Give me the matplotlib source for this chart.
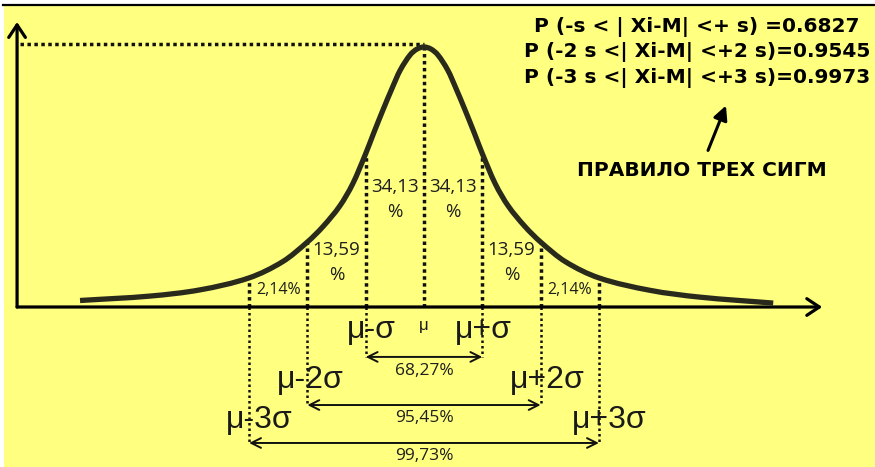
import numpy as np
import matplotlib
matplotlib.use("Agg")
import matplotlib.pyplot as plt
from matplotlib.patches import Rectangle, FancyArrowPatch, PathPatch
from matplotlib.lines import Line2D
from matplotlib.path import Path

# Bell curve, x in units of sigma around the mean, height relative to the peak
curve_x = [-5.90, -4.70, -3.84, -3.00, -2.42, -2.00, -1.73, -1.44, -1.22, -1.00,
           -0.87, -0.70, -0.55, -0.41, -0.24, -0.12, 0.00, 0.12, 0.24, 0.41,
           0.55, 0.70, 0.87, 1.00, 1.22, 1.44, 1.73, 2.00, 2.42, 3.00,
           3.88, 4.73, 5.99]
curve_y = [0.025, 0.042, 0.066, 0.112, 0.175, 0.250, 0.310, 0.390, 0.475, 0.590,
           0.665, 0.760, 0.840, 0.910, 0.969, 0.992, 1.000, 0.992, 0.969, 0.910,
           0.840, 0.760, 0.665, 0.590, 0.475, 0.390, 0.310, 0.250, 0.175, 0.112,
           0.064, 0.038, 0.015]

sigma_levels = [1, 2, 3]
band_pct = ["34,13", "13,59", "2,14"]          # share of each sigma band
coverage_pct = ["68,27%", "95,45%", "99,73%"]  # within ±kσ
probabilities = [0.6827, 0.9545, 0.9973]
prob_templates = ["P (-s < | Xi-M| <+ s) ={:.4f}",
                  "P (-2 s <| Xi-M| <+2 s)={:.4f}",
                  "P (-3 s <| Xi-M| <+3 s)={:.4f}"]
minus_labels = ["μ-σ", "μ-2σ", "μ-3σ"]
plus_labels = ["μ+σ", "μ+2σ", "μ+3σ"]
rule_title = "ПРАВИЛО ТРЕХ СИГМ"

W, H = 875, 467
BG = "#FFFF80"
INK = "#111111"
CURVE = "#2a2a1c"


def smooth_path(xs, ys):
    """Cubic Hermite path through the given points, as Bezier segments."""
    xs = np.asarray(xs, float)
    ys = np.asarray(ys, float)
    n = len(xs)
    m = np.empty(n)
    m[1:-1] = (ys[2:] - ys[:-2]) / (xs[2:] - xs[:-2])
    m[0] = (ys[1] - ys[0]) / (xs[1] - xs[0])
    m[-1] = (ys[-1] - ys[-2]) / (xs[-1] - xs[-2])
    verts = [(xs[0], ys[0])]
    codes = [Path.MOVETO]
    for i in range(n - 1):
        h = xs[i + 1] - xs[i]
        verts += [(xs[i] + h / 3, ys[i] + m[i] * h / 3),
                  (xs[i + 1] - h / 3, ys[i + 1] - m[i + 1] * h / 3),
                  (xs[i + 1], ys[i + 1])]
        codes += [Path.CURVE4] * 3
    return Path(verts, codes)


fig = plt.figure(figsize=(W / 100, H / 100), dpi=100, facecolor="white")
# yellow sheet with a dark rule along the top
fig.add_artist(Rectangle((4 / W, 0), 1, (H - 6) / H, transform=fig.transFigure,
                         facecolor=BG, edgecolor="none", zorder=0))
fig.add_artist(Line2D([3 / W, 1], [1 - 5 / H, 1 - 5 / H], transform=fig.transFigure,
                      color="black", lw=1.6, zorder=1))

ax = fig.add_axes([0, 0, 1, 1])
ax.set_facecolor("none")
ax.set_xlim(-424 / 58.3, (W - 424) / 58.3)
ax.set_ylim((307 - H) / 260, 307 / 260)
ax.axis("off")

dots = dict(color=INK, lw=2.5, linestyle=(0, (1, 1.0)), dash_capstyle="butt")
dots_thin = dict(color=INK, lw=1.8, linestyle=(0, (1, 1.2)), dash_capstyle="butt")

x_left = -6.98
x_right = 6.83
y_top = 1.096
arrow_y = [-0.192, -0.377, -0.523]
label_y = [-0.246, -0.427, -0.573]

# axes with open arrowheads
for tip in [(x_left, y_top), (x_right, 0)]:
    ax.annotate("", xy=tip, xytext=(x_left, 0),
                arrowprops=dict(arrowstyle="->,head_length=0.45,head_width=0.3",
                                lw=2.3, color="black", shrinkA=0, shrinkB=0,
                                mutation_scale=20), zorder=3)

# peak guide lines
peak = max(curve_y)
ax.plot([x_left + 0.05, 0], [peak + 0.012, peak + 0.012], **dots, zorder=2)
ax.plot([0, 0], [0, peak], **dots, zorder=2)

# sigma boundaries, coverage arrows
for i, k in enumerate(sigma_levels):
    for s in (-1, 1):
        top = np.interp(s * k, curve_x, curve_y)
        ax.plot([s * k, s * k], [0, top], **dots, zorder=2)
        ax.plot([s * k, s * k], [0, arrow_y[i]], **dots_thin, zorder=2)
    ax.annotate("", xy=(k, arrow_y[i]), xytext=(-k, arrow_y[i]),
                arrowprops=dict(arrowstyle="<->,head_length=0.5,head_width=0.25",
                                lw=1.4, color=INK, shrinkA=0, shrinkB=0,
                                mutation_scale=14))
    ax.text(0, label_y[i], coverage_pct[i], ha="center", va="center",
            fontsize=12.5, family="Open Sans", color="#1e1e1e")

ax.add_patch(PathPatch(smooth_path(curve_x, curve_y), facecolor="none",
                       edgecolor=CURVE, lw=3.8, capstyle="butt",
                       joinstyle="round", zorder=4))

# band shares
pct_font = dict(family="Open Sans", color="#1e1e1e", ha="center", va="center")
for s in (-1, 1):
    for k, lab, yy in [(1, band_pct[0], 0.462), (2, band_pct[1], 0.219)]:
        ax.text(s * (k - 0.5), yy, lab, fontsize=13.5, **pct_font)
        ax.text(s * (k - 0.5), yy - 0.097, "%", fontsize=13.5, **pct_font)
    ax.text(s * 2.49, 0.065, band_pct[2] + "%", fontsize=11.5, **pct_font)

# sigma labels below the axis
sig_font = dict(family=["Liberation Sans", "DejaVu Sans"], color="#1a1a1a",
                ha="center", va="center", fontsize=23)
ax.text(0, -0.07, "μ", family=["Liberation Sans", "DejaVu Sans"], color="#1a1a1a",
        ha="center", va="center", fontsize=12)
minus_x = [-0.91, -1.955, -2.83]
plus_x = [1.01, 2.11, 3.17]
sig_y = [-0.088, -0.281, -0.435]
for i in range(3):
    ax.text(minus_x[i], sig_y[i], minus_labels[i], **sig_font)
    ax.text(plus_x[i], sig_y[i], plus_labels[i], **sig_font)

# probabilities and caption
bold = dict(family="DejaVu Sans", weight="bold", color="black",
            ha="center", va="center", fontsize=14.5)
for yy, tpl, p in zip([27, 52, 78], prob_templates, probabilities):
    fig.text(697 / W, 1 - yy / H, tpl.format(p), **bold)
fig.text(702 / W, 1 - 170 / H, rule_title, family="DejaVu Sans", weight="bold",
         color="black", ha="center", va="center", fontsize=14.5)
fig.add_artist(FancyArrowPatch((707 / W, 1 - 153 / H), (727 / W, 1 - 103 / H),
                               transform=fig.transFigure,
                               arrowstyle="-|>,head_length=0.6,head_width=0.3",
                               mutation_scale=14, lw=2.2, color="black"))

fig.savefig("out.png", dpi=100, facecolor=fig.get_facecolor())
